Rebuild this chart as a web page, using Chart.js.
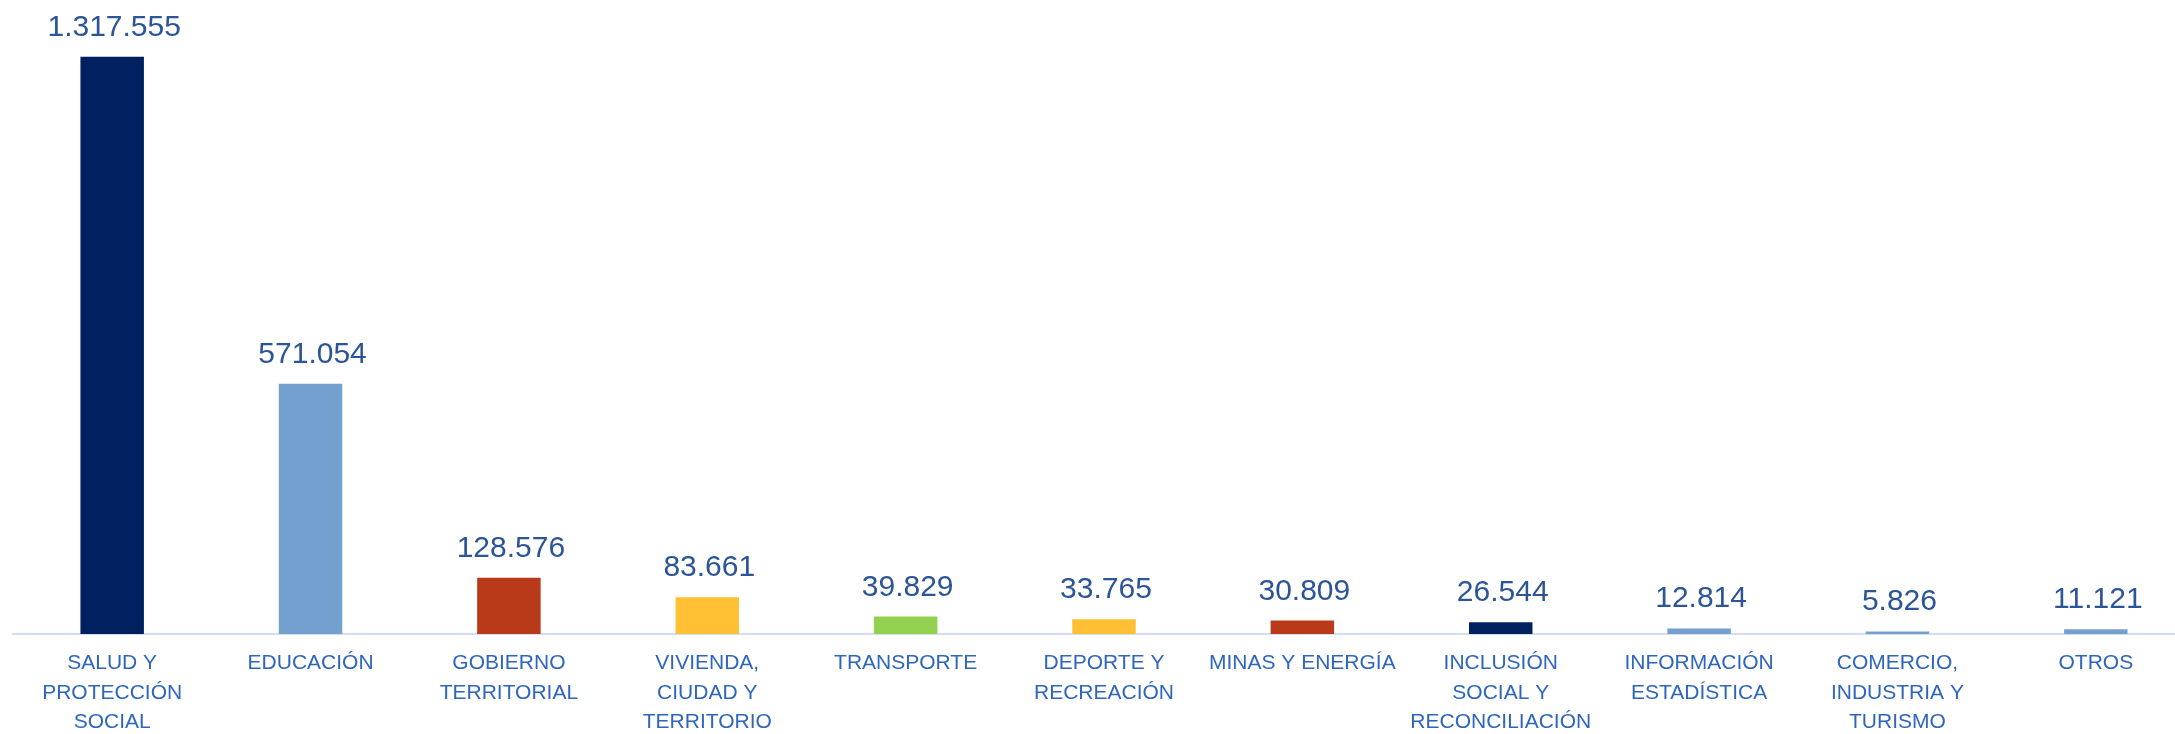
<!DOCTYPE html>
<html>
<head>
<meta charset="utf-8">
<script src="https://cdn.jsdelivr.net/npm/chart.js@4.4.1/dist/chart.umd.min.js"></script>
<style>
    html, body { margin: 0; padding: 0; background: #fff; overflow: hidden; }
    #wrap { width: 2195px; height: 734px; }
</style>
</head>
<body>
<div id="wrap"><canvas id="sectorChart"></canvas></div>
<script>
// Categories (already split into lines like the original)
const sectors = [
    ['SALUD Y', 'PROTECCIÓN', 'SOCIAL'],
    ['EDUCACIÓN'],
    ['GOBIERNO', 'TERRITORIAL'],
    ['VIVIENDA,', 'CIUDAD Y', 'TERRITORIO'],
    ['TRANSPORTE'],
    ['DEPORTE Y', 'RECREACIÓN'],
    ['MINAS Y ENERGÍA'],
    ['INCLUSIÓN', 'SOCIAL Y', 'RECONCILIACIÓN'],
    ['INFORMACIÓN', 'ESTADÍSTICA'],
    ['COMERCIO,', 'INDUSTRIA Y', 'TURISMO'],
    ['OTROS']
];
const amounts = [1317555, 571054, 128576, 83661, 39829, 33765, 30809, 26544, 12814, 5826, 11121];
const barColors = ['#002060', '#74a0d0', '#b93a18', '#ffc133', '#92d050', '#ffc133', '#b93a18', '#002060', '#74a0d0', '#74a0d0', '#74a0d0'];

// number format with dot thousands separator
function fmt(n) {
    return String(n).replace(/\B(?=(\d{3})+(?!\d))/g, '.');
}

// Draw value labels above each bar
const valueLabels = {
    id: 'valueLabels',
    afterDatasetsDraw(chart) {
        const ctx = chart.ctx;
        const meta = chart.getDatasetMeta(0);
        ctx.save();
        ctx.font = '30px "Liberation Sans", Arial, sans-serif';
        ctx.fillStyle = '#2b5597';
        ctx.textAlign = 'center';
        ctx.textBaseline = 'alphabetic';
        meta.data.forEach((bar, i) => {
            ctx.fillText(fmt(amounts[i]), bar.x + 2, bar.y - 21);
        });
        ctx.restore();
    }
};

const ctx = document.getElementById('sectorChart').getContext('2d');
new Chart(ctx, {
    type: 'bar',
    data: {
        labels: sectors,
        datasets: [{
            data: amounts,
            backgroundColor: barColors,
            borderWidth: 0,
            categoryPercentage: 1,
            barPercentage: 0.32
        }]
    },
    options: {
        responsive: true,
        maintainAspectRatio: false,
        animation: false,
        layout: { padding: { left: 13, right: 0, top: 0, bottom: 0 } },
        plugins: {
            legend: { display: false },
            tooltip: { enabled: false }
        },
        scales: {
            y: {
                display: false,
                min: 0,
                max: 1447000
            },
            x: {
                offset: true,
                grid: { display: false, drawTicks: false },
                border: { display: true, color: '#d3dff0', width: 2 },
                ticks: {
                    color: '#2f66bd',
                    padding: 15,
                    maxRotation: 0,
                    autoSkip: false,
                    font: { family: '"Liberation Sans", Arial, sans-serif', size: 21, lineHeight: 1.4 }
                },
                afterFit(scale) {
                    scale.height = 100;
                }
            }
        }
    },
    plugins: [valueLabels]
});
</script>
</body>
</html>
